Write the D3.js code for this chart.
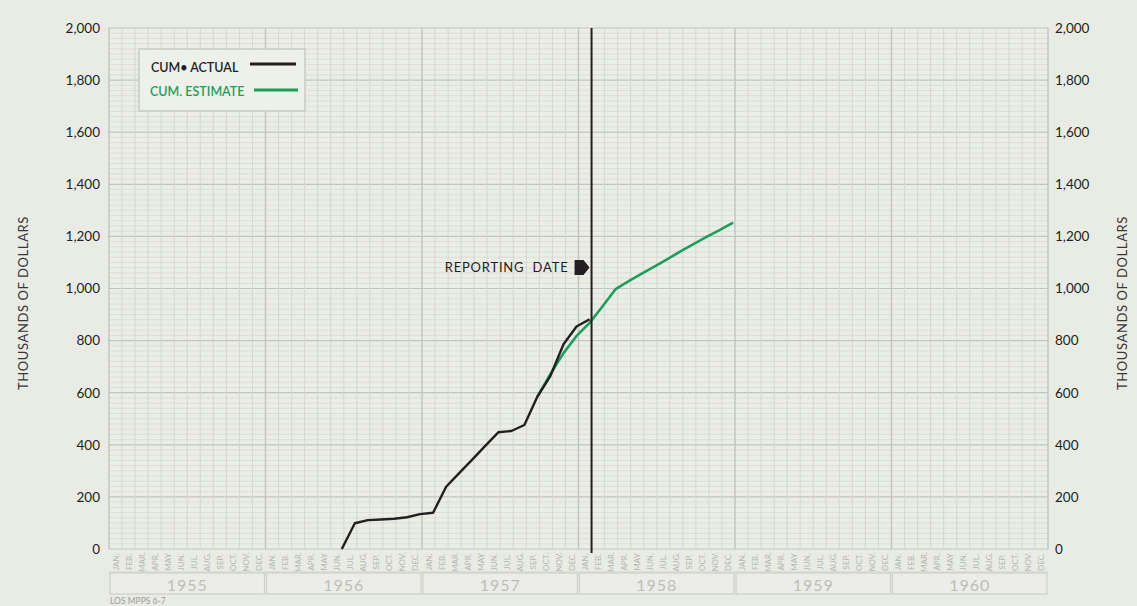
<!DOCTYPE html>
<html>
<head>
<meta charset="utf-8">
<script src="https://cdn.jsdelivr.net/npm/d3@7"></script>
<style>
  html, body { margin: 0; padding: 0; background: #e9ebe5; }
  svg { display: block; }
  text { font-family: Lato, "Open Sans", "DejaVu Sans", sans-serif; }
</style>
</head>
<body>
<svg id="chart" width="1137" height="606"></svg>
<script>
// ---------------- DATA ----------------
const years = [1955, 1956, 1957, 1958, 1959, 1960];
const monthLabels = ["JAN.", "FEB.", "MAR.", "APR.", "MAY", "JUN.", "JUL.", "AUG.", "SEP.", "OCT.", "NOV.", "DEC."];
const yTicks = [0, 200, 400, 600, 800, 1000, 1200, 1400, 1600, 1800, 2000];

const actualMonths = ["1956-06", "1956-07", "1956-08", "1956-09", "1956-10", "1956-11", "1956-12",
  "1957-01", "1957-02", "1957-03", "1957-04", "1957-05", "1957-06", "1957-07", "1957-08",
  "1957-09", "1957-10", "1957-11", "1957-12", "1958-01"];
const actualValues = [0, 99, 111, 113, 116, 122, 134,
  139, 239, 291, 343, 396, 448, 453, 476,
  585, 665, 786, 854, 882];

const estimateMonths = ["1957-09", "1957-10", "1957-11", "1957-12", "1958-01", "1958-02", "1958-03",
  "1958-04", "1958-05", "1958-06", "1958-07", "1958-08", "1958-09", "1958-10", "1958-11", "1958-12"];
const estimateValues = [585, 672, 752, 818, 868, 932, 998,
  1028, 1057, 1085, 1114, 1143, 1171, 1199, 1225, 1253];

const reportingMonth = "1958-01";
const legendLabels = ["CUM\u2022 ACTUAL", "CUM. ESTIMATE"];
const yTitle = "THOUSANDS OF DOLLARS";
const footnote = "LOS MPPS 6-7";

// ---------------- LAYOUT ----------------
(function () {
const svg = d3.select("#chart");
const pL = 109, pR = 1048, pT = 28, pB = 549;
const nMonths = years.length * 12;

const x = d3.scaleLinear().domain([0, nMonths]).range([pL, pR]);
const y = d3.scaleLinear().domain([0, 2000]).range([pB, pT]);

const monthIndex = s => { const [yy, mm] = s.split("-").map(Number); return (yy - years[0]) * 12 + (mm - 1); };
const pointX = s => x(monthIndex(s) + 0.85);

const colBlack = "#231f20", colGreen = "#1f9d5c", gridC = "#d3d5cf", gridMajor = "#c2c4be", faint = "#b5b7b1";

// plot background
svg.append("rect").attr("x", pL).attr("y", pT).attr("width", pR - pL).attr("height", pB - pT)
  .attr("fill", "#ebede7");

// horizontal grid
const g = svg.append("g");
g.selectAll("line.h").data(d3.range(0, 2001, 20)).join("line")
  .attr("x1", pL).attr("x2", pR)
  .attr("y1", d => y(d)).attr("y2", d => y(d))
  .attr("stroke", d => d % 200 === 0 ? gridMajor : gridC)
  .attr("stroke-width", d => d % 200 === 0 ? 1.2 : 0.6);

// vertical grid (months)
g.selectAll("line.v").data(d3.range(0, nMonths + 1)).join("line")
  .attr("y1", pT).attr("y2", pB)
  .attr("x1", d => x(d)).attr("x2", d => x(d))
  .attr("stroke", d => d % 12 === 0 ? gridMajor : gridC)
  .attr("stroke-width", d => d % 12 === 0 ? 1.4 : 0.9);

// month labels
const mGroup = svg.append("g");
d3.range(nMonths).forEach(i => {
  mGroup.append("text")
    .attr("transform", `translate(${x(i + 0.5) + 3},${562}) rotate(-90)`)
    .attr("text-anchor", "middle")
    .attr("font-size", 8)
    .attr("fill", faint)
    .text(monthLabels[i % 12]);
});
svg.append("line").attr("x1", pL).attr("x2", pR).attr("y1", 572).attr("y2", 572).attr("stroke", "#d0d2cc");

// year boxes
years.forEach((yr, k) => {
  svg.append("rect")
    .attr("x", x(k * 12) + 1).attr("y", 573).attr("width", x(12) - x(0) - 2).attr("height", 21)
    .attr("fill", "#ecede8").attr("stroke", "#cdcfc9").attr("stroke-width", 1.2);
  svg.append("text")
    .attr("x", x(k * 12 + 6)).attr("y", 590.5)
    .attr("text-anchor", "middle").attr("font-size", 16).attr("letter-spacing", 1)
    .attr("fill", "#bcbeb8").text(yr);
});

// y axis labels (left and right)
const styleAxis = s => {
  s.select(".domain").remove();
  s.selectAll("text").attr("font-size", 13.5).attr("fill", colBlack)
    .attr("font-family", "Lato, 'Open Sans', sans-serif");
};
svg.append("g").attr("transform", `translate(100,0)`)
  .call(d3.axisLeft(y).tickValues(yTicks).tickSize(0).tickPadding(0).tickFormat(d3.format(",")))
  .call(styleAxis);
svg.append("g").attr("transform", `translate(1055,0)`)
  .call(d3.axisRight(y).tickValues(yTicks).tickSize(0).tickPadding(0).tickFormat(d3.format(",")))
  .call(styleAxis);

// y titles
[23, 1122].forEach(cx => {
  svg.append("text")
    .attr("transform", `translate(${cx + 5},${303}) rotate(-90)`)
    .attr("text-anchor", "middle").attr("font-size", 13).attr("letter-spacing", 0.6)
    .attr("fill", "#3a3537").text(yTitle);
});

// lines
const line = d3.line().x(d => pointX(d[0])).y(d => y(d[1]));
svg.append("path").datum(d3.zip(estimateMonths, estimateValues))
  .attr("d", line).attr("fill", "none").attr("stroke", colGreen).attr("stroke-width", 2.6)
  .attr("stroke-linejoin", "round");
svg.append("path").datum(d3.zip(actualMonths, actualValues))
  .attr("d", line).attr("fill", "none").attr("stroke", colBlack).attr("stroke-width", 2.4)
  .attr("stroke-linejoin", "round");

// reporting date
const rx = x(monthIndex(reportingMonth) + 1);
svg.append("line").attr("x1", rx).attr("x2", rx).attr("y1", pT).attr("y2", 553)
  .attr("stroke", colBlack).attr("stroke-width", 2);
svg.append("text").attr("x", rx - 23).attr("y", 272).attr("text-anchor", "end")
  .attr("font-size", 13).attr("letter-spacing", 0.8).attr("fill", colBlack)
  .attr("xml:space", "preserve").style("white-space", "pre").text("REPORTING  DATE");
svg.append("path")
  .attr("d", `M${rx - 17},${260} L${rx - 8},${260} L${rx - 2},${267.5} L${rx - 8},${275} L${rx - 17},${275} Z`)
  .attr("fill", colBlack);

// legend
svg.append("rect").attr("x", 139).attr("y", 49).attr("width", 166).attr("height", 62)
  .attr("fill", "#eef0ea").attr("stroke", "#c9cbc5").attr("stroke-width", 1.5);
svg.append("text").attr("x", 151).attr("y", 72).attr("font-size", 12.5).attr("font-weight", 600)
  .attr("fill", colBlack).text(legendLabels[0]);
svg.append("line").attr("x1", 250).attr("x2", 296).attr("y1", 64).attr("y2", 64)
  .attr("stroke", colBlack).attr("stroke-width", 3);
svg.append("text").attr("x", 150).attr("y", 96).attr("font-size", 12.5).attr("font-weight", 600)
  .attr("fill", colGreen).text(legendLabels[1]);
svg.append("line").attr("x1", 254).attr("x2", 298).attr("y1", 90).attr("y2", 90)
  .attr("stroke", colGreen).attr("stroke-width", 3);

// footnote
svg.append("text").attr("x", 110).attr("y", 604).attr("font-size", 8.5).attr("fill", "#9a9c97")
  .text(footnote);
})();
</script>
</body>
</html>
